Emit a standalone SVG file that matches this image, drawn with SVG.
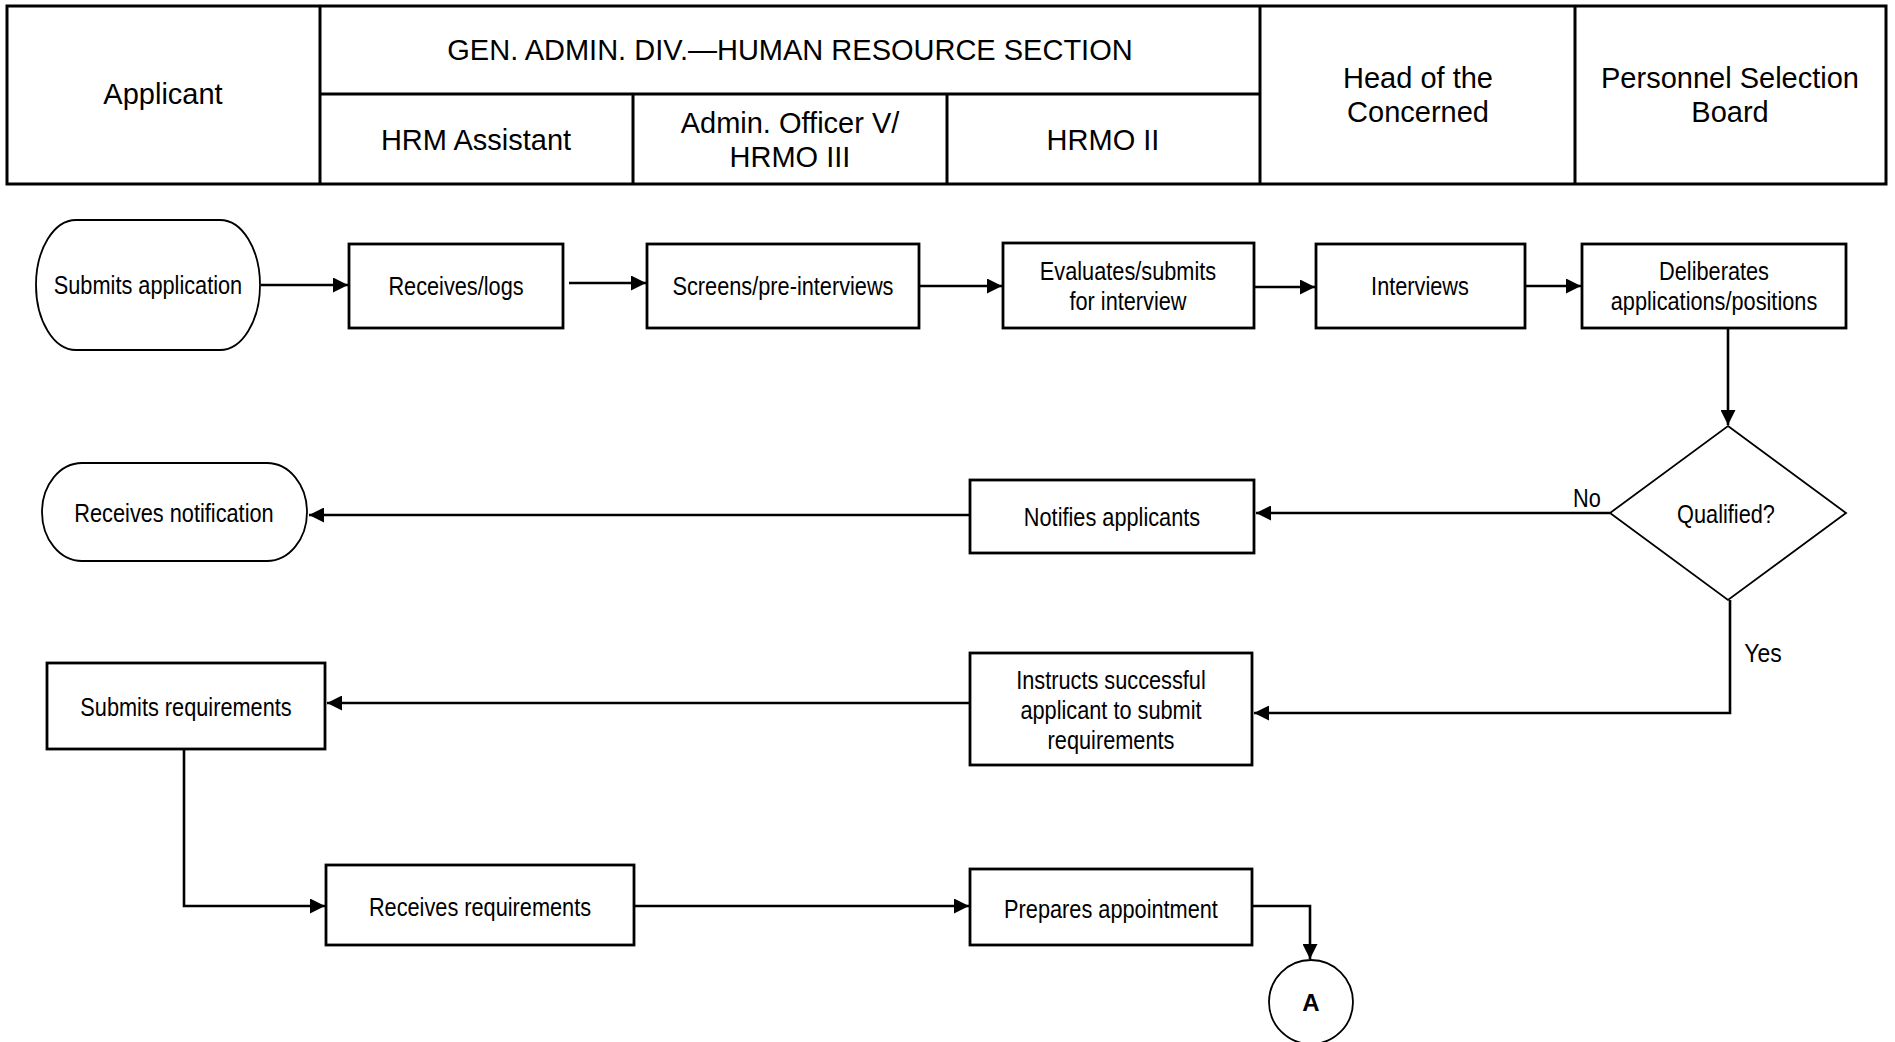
<svg xmlns="http://www.w3.org/2000/svg" width="1895" height="1042" viewBox="0 0 1895 1042">
<defs>
<marker id="arr" markerUnits="userSpaceOnUse" markerWidth="16" markerHeight="15" refX="15" refY="7.5" orient="auto">
<path d="M0,0 L15,7.5 L0,15 z" fill="#000"/>
</marker>
<style>
.hdr{font-family:"Liberation Sans",Arial,sans-serif;font-size:29px;fill:#000;text-anchor:middle}
.t{font-family:"Liberation Sans Narrow","Arial Narrow","Liberation Sans",Arial,sans-serif;font-size:26.5px;fill:#000;text-anchor:middle}
.grid{fill:none;stroke:#000;stroke-width:3}
.box{fill:#fff;stroke:#000;stroke-width:2.8}
.thin{fill:#fff;stroke:#000;stroke-width:1.8}
.con{fill:none;stroke:#000;stroke-width:2.6}
.bold{font-family:"Liberation Sans",Arial,sans-serif;font-size:24px;font-weight:bold;fill:#000;text-anchor:middle}
</style>
</defs>
<rect width="1895" height="1042" fill="#fff"/>

<g id="header">
<rect class="grid" x="7" y="6" width="1879" height="178"/>
<line class="grid" x1="320" y1="6" x2="320" y2="184"/>
<line class="grid" x1="1260" y1="6" x2="1260" y2="184"/>
<line class="grid" x1="1575" y1="6" x2="1575" y2="184"/>
<line class="grid" x1="320" y1="94" x2="1260" y2="94"/>
<line class="grid" x1="633" y1="94" x2="633" y2="184"/>
<line class="grid" x1="947" y1="94" x2="947" y2="184"/>
<text class="hdr" x="163" y="104">Applicant</text>
<text class="hdr" x="790" y="60">GEN. ADMIN. DIV.—HUMAN RESOURCE SECTION</text>
<text class="hdr" x="476" y="150">HRM Assistant</text>
<text class="hdr" x="790" y="133">Admin. Officer V/</text>
<text class="hdr" x="790" y="167">HRMO III</text>
<text class="hdr" x="1103" y="150">HRMO II</text>
<text class="hdr" x="1418" y="88">Head of the</text>
<text class="hdr" x="1418" y="122">Concerned</text>
<text class="hdr" x="1730" y="88">Personnel Selection</text>
<text class="hdr" x="1730" y="122">Board</text>
</g>

<g id="connectors">
<line class="con" x1="261" y1="285" x2="348" y2="285" marker-end="url(#arr)"/>
<line class="con" x1="569" y1="283" x2="646" y2="283" marker-end="url(#arr)"/>
<line class="con" x1="920" y1="286" x2="1002" y2="286" marker-end="url(#arr)"/>
<line class="con" x1="1255" y1="287" x2="1315" y2="287" marker-end="url(#arr)"/>
<line class="con" x1="1526" y1="286" x2="1581" y2="286" marker-end="url(#arr)"/>
<line class="con" x1="1728" y1="329" x2="1728" y2="425" marker-end="url(#arr)"/>
<line class="con" x1="1610" y1="513" x2="1256" y2="513" marker-end="url(#arr)"/>
<line class="con" x1="969" y1="515" x2="309" y2="515" marker-end="url(#arr)"/>
<polyline class="con" points="1730,600 1730,713 1254,713" marker-end="url(#arr)"/>
<line class="con" x1="969" y1="703" x2="327" y2="703" marker-end="url(#arr)"/>
<polyline class="con" points="184,750 184,906 325,906" marker-end="url(#arr)"/>
<line class="con" x1="635" y1="906" x2="969" y2="906" marker-end="url(#arr)"/>
<polyline class="con" points="1253,906 1310,906 1310,959" marker-end="url(#arr)"/>
<text class="t" x="1587" y="507" textLength="27.8" lengthAdjust="spacingAndGlyphs">No</text>
<text class="t" x="1763" y="662" textLength="37.4" lengthAdjust="spacingAndGlyphs">Yes</text>
</g>

<g id="n-submits-application">
<rect class="thin" x="36" y="220" width="224" height="130" rx="40" ry="65"/>
<text class="t" x="148" y="294" textLength="188.4" lengthAdjust="spacingAndGlyphs">Submits application</text>
</g>
<g id="n-receives-logs">
<rect class="box" x="349" y="244" width="214" height="84"/>
<text class="t" x="456" y="295" textLength="135.2" lengthAdjust="spacingAndGlyphs">Receives/logs</text>
</g>
<g id="n-screens">
<rect class="box" x="647" y="244" width="272" height="84"/>
<text class="t" x="783" y="295" textLength="221" lengthAdjust="spacingAndGlyphs">Screens/pre-interviews</text>
</g>
<g id="n-evaluates">
<rect class="box" x="1003" y="243" width="251" height="85"/>
<text class="t" x="1128" y="280" textLength="176.3" lengthAdjust="spacingAndGlyphs">Evaluates/submits</text>
<text class="t" x="1128" y="310" textLength="117.1" lengthAdjust="spacingAndGlyphs">for interview</text>
</g>
<g id="n-interviews">
<rect class="box" x="1316" y="244" width="209" height="84"/>
<text class="t" x="1420" y="295" textLength="97.8" lengthAdjust="spacingAndGlyphs">Interviews</text>
</g>
<g id="n-deliberates">
<rect class="box" x="1582" y="244" width="264" height="84"/>
<text class="t" x="1714" y="280" textLength="109.9" lengthAdjust="spacingAndGlyphs">Deliberates</text>
<text class="t" x="1714" y="310" textLength="206.5" lengthAdjust="spacingAndGlyphs">applications/positions</text>
</g>
<g id="n-qualified">
<polygon class="thin" points="1728,426 1846,513 1728,600 1610,513"/>
<text class="t" x="1726" y="523" textLength="97.8" lengthAdjust="spacingAndGlyphs">Qualified?</text>
</g>
<g id="n-notifies">
<rect class="box" x="970" y="480" width="284" height="73"/>
<text class="t" x="1112" y="526" textLength="176.3" lengthAdjust="spacingAndGlyphs">Notifies applicants</text>
</g>
<g id="n-receives-notification">
<rect class="thin" x="42" y="463" width="265" height="98" rx="40" ry="49"/>
<text class="t" x="174" y="522" textLength="199.3" lengthAdjust="spacingAndGlyphs">Receives notification</text>
</g>
<g id="n-instructs">
<rect class="box" x="970" y="653" width="282" height="112"/>
<text class="t" x="1111" y="689" textLength="189.6" lengthAdjust="spacingAndGlyphs">Instructs successful</text>
<text class="t" x="1111" y="719" textLength="181.2" lengthAdjust="spacingAndGlyphs">applicant to submit</text>
<text class="t" x="1111" y="749" textLength="126.8" lengthAdjust="spacingAndGlyphs">requirements</text>
</g>
<g id="n-submits-requirements">
<rect class="box" x="47" y="663" width="278" height="86"/>
<text class="t" x="186" y="716" textLength="211.3" lengthAdjust="spacingAndGlyphs">Submits requirements</text>
</g>
<g id="n-receives-requirements">
<rect class="box" x="326" y="865" width="308" height="80"/>
<text class="t" x="480" y="916" textLength="222.2" lengthAdjust="spacingAndGlyphs">Receives requirements</text>
</g>
<g id="n-prepares">
<rect class="box" x="970" y="869" width="282" height="76"/>
<text class="t" x="1111" y="918" textLength="213.8" lengthAdjust="spacingAndGlyphs">Prepares appointment</text>
</g>
<g id="n-connector-a">
<circle class="thin" cx="1311" cy="1002" r="42"/>
<text class="bold" x="1311" y="1011">A</text>
</g>
</svg>
